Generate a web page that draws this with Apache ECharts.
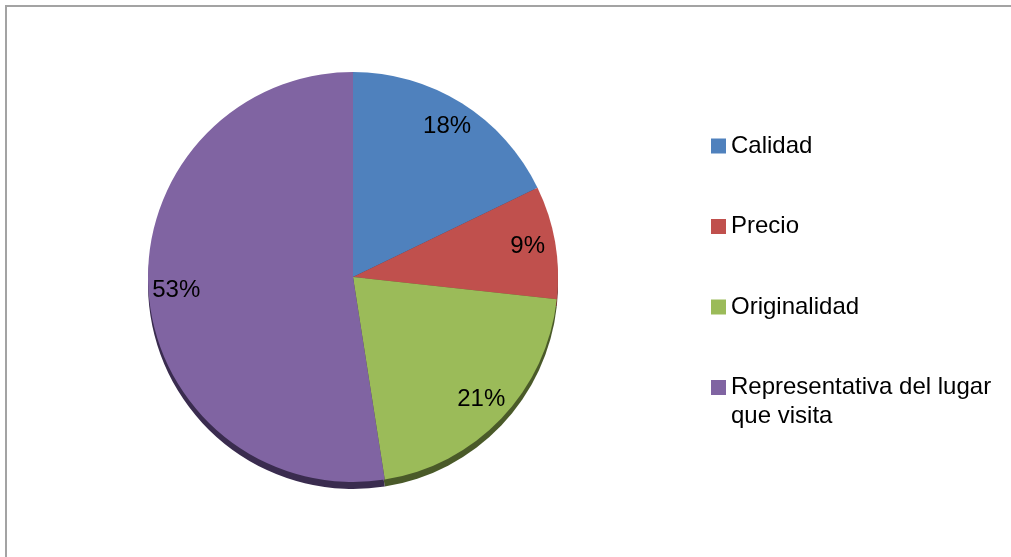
<!DOCTYPE html>
<html>
<head>
<meta charset="utf-8">
<script src="https://cdn.jsdelivr.net/npm/echarts@6/dist/echarts.min.js"></script>
<style>
  html, body { margin: 0; padding: 0; background: #ffffff; }
  #chart { width: 1011px; height: 557px; }
</style>
</head>
<body>
<div id="chart"></div>
<script>
// Survey answers: share of respondents per reason (percent)
const categories = ['Calidad', 'Precio', 'Originalidad', 'Representativa del lugar que visita'];
const percentages = [18, 9, 21, 53];

const sliceColors = ['#4F81BD', '#C0504D', '#9BBB59', '#8064A2'];
const edgeColors = ['#2c4a6e', '#6e2c2a', '#4a5a29', '#3a2c4f'];

const FONT = '"Liberation Sans", Arial, sans-serif';
const CENTER_X = 353;
const CENTER_Y = 277;
const RADIUS = 205;

const pieData = categories.map((name, i) => ({
  name: name,
  value: percentages[i],
  itemStyle: { color: sliceColors[i] }
}));
const edgeData = categories.map((name, i) => ({
  name: name,
  value: percentages[i],
  itemStyle: { color: edgeColors[i] }
}));

const chart = echarts.init(document.getElementById('chart'), null, { renderer: 'canvas' });

const legendText = {
  fontFamily: FONT,
  fontSize: 24,
  lineHeight: 29,
  color: '#000000'
};

chart.setOption({
  animation: false,
  backgroundColor: '#ffffff',
  graphic: [{
    type: 'rect',
    silent: true,
    shape: { x: 6, y: 6, width: 1200, height: 700 },
    style: { fill: 'none', stroke: '#a3a3a3', lineWidth: 2 }
  }],
  legend: [{
    orient: 'vertical',
    left: 711,
    top: 131.5,
    padding: 0,
    icon: 'rect',
    itemWidth: 15,
    itemHeight: 15,
    itemGap: 51.5,
    selectedMode: false,
    textStyle: legendText,
    data: categories.slice(0, 3)
  }, {
    orient: 'vertical',
    left: 711,
    top: 344,
    padding: 0,
    icon: 'rect',
    itemWidth: 15,
    itemHeight: 15,
    selectedMode: false,
    // leading empty line keeps the first text line level with the swatch
    formatter: name => '\n' + name,
    textStyle: Object.assign({}, legendText, {
      width: 275,
      overflow: 'break'
    }),
    data: categories.slice(3)
  }],
  series: [
    // the pie itself
    {
      type: 'pie',
      name: 'Motivo',
      z: 3,
      center: [CENTER_X, CENTER_Y],
      radius: [0, RADIUS],
      startAngle: 90,
      clockwise: true,
      label: { show: false },
      labelLine: { show: false },
      emphasis: { disabled: true },
      data: pieData
    },
    // darker rim under the disc, giving it a little depth
    {
      type: 'pie',
      silent: true,
      z: 1,
      center: [CENTER_X, CENTER_Y + 7],
      radius: [0, RADIUS],
      startAngle: 90,
      clockwise: true,
      label: { show: false },
      labelLine: { show: false },
      legendHoverLink: false,
      data: edgeData
    },
    // transparent ring carrying the percentage labels near the rim
    {
      type: 'pie',
      silent: true,
      z: 4,
      center: [CENTER_X, CENTER_Y],
      radius: [RADIUS * 0.7, RADIUS],
      startAngle: 90,
      clockwise: true,
      legendHoverLink: false,
      itemStyle: { color: 'rgba(0,0,0,0)' },
      label: {
        show: true,
        position: 'inside',
        formatter: p => p.value + '%',
        fontFamily: FONT,
        fontSize: 24,
        color: '#000000'
      },
      labelLine: { show: false },
      data: categories.map((name, i) => ({ name: name, value: percentages[i] }))
    }
  ]
});
</script>
</body>
</html>
